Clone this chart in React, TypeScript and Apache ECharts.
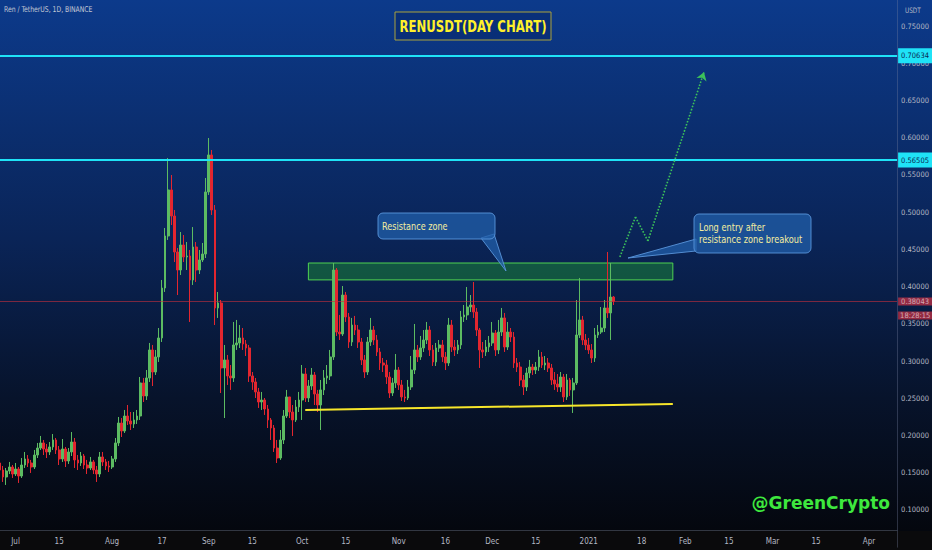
import React, { useEffect, useRef } from "react";
import * as echarts from "echarts";

const NARROW = "'Liberation Sans Narrow', 'Arial Narrow', 'DejaVu Sans Condensed', 'Roboto Condensed', sans-serif";

// ---- data ----
const firstDate = "2020-06-26";
const lastDate = "2021-04-10";
const firstOpen = 0.1631;

const closes = [
  0.1537, 0.1443, 0.1524, 0.1577, 0.1483, 0.1550, 0.1456, 0.1604, 0.1685, 0.1631,
  0.1577, 0.1738, 0.1832, 0.1900, 0.1819, 0.1779, 0.1846, 0.1940, 0.1806, 0.1685,
  0.1819, 0.1658, 0.1779, 0.1913, 0.1672, 0.1631, 0.1725, 0.1604, 0.1564, 0.1645,
  0.1537, 0.1483, 0.1712, 0.1645, 0.1591, 0.1577, 0.1685, 0.1900, 0.2168, 0.2061,
  0.2262, 0.2195, 0.2155, 0.2209, 0.2262, 0.2706, 0.2531, 0.2773, 0.3149, 0.2853,
  0.3055, 0.3310, 0.3981, 0.4680, 0.5298, 0.4948, 0.4465, 0.4223, 0.4559, 0.4398,
  0.4411, 0.4089, 0.4532, 0.4223, 0.4358, 0.4438, 0.5271, 0.5768, 0.5029, 0.3713,
  0.3780, 0.2907, 0.3015, 0.2800, 0.2773, 0.3216, 0.3243, 0.3310, 0.3229, 0.3176,
  0.2800, 0.2719, 0.2585, 0.2450, 0.2477, 0.2356, 0.2209, 0.2101, 0.1832, 0.1698,
  0.1940, 0.2262, 0.2518, 0.2316, 0.2209, 0.2383, 0.2477, 0.2826, 0.2504, 0.2665,
  0.2813, 0.2558, 0.2410, 0.2612, 0.2773, 0.2800, 0.3055, 0.4223, 0.3390, 0.3364,
  0.3887, 0.3592, 0.3256, 0.3484, 0.3417, 0.3256, 0.3015, 0.2853, 0.3256, 0.3417,
  0.3283, 0.3122, 0.2974, 0.2947, 0.2786, 0.2571, 0.2706, 0.2880, 0.2679, 0.2518,
  0.2504, 0.2652, 0.2880, 0.3149, 0.3055, 0.3176, 0.3283, 0.3417, 0.3149, 0.2988,
  0.3176, 0.3216, 0.3055, 0.2974, 0.3484, 0.3189, 0.3149, 0.3216, 0.3592, 0.3619,
  0.3726, 0.3753, 0.3659, 0.3417, 0.3149, 0.3122, 0.3189, 0.3243, 0.3377, 0.3149,
  0.3390, 0.3579, 0.3189, 0.3390, 0.3323, 0.2974, 0.2920, 0.2746, 0.2652, 0.2840,
  0.2920, 0.2880, 0.2920, 0.3055, 0.2947, 0.2974, 0.2907, 0.2746, 0.2692, 0.2652,
  0.2786, 0.2518, 0.2746, 0.2612, 0.2706, 0.3350, 0.3552, 0.3283, 0.3216, 0.3149,
  0.3041, 0.3350, 0.3390, 0.3444, 0.3713, 0.3646, 0.3860, 0.38043,
];

const highs = [
  0.1698, 0.1591, 0.1564, 0.1645, 0.1604, 0.1631, 0.1577, 0.1698, 0.1779, 0.1738,
  0.1672, 0.1806, 0.1900, 0.1994, 0.1940, 0.1886, 0.1913, 0.2020, 0.1967, 0.1859,
  0.1953, 0.1846, 0.1832, 0.2047, 0.1967, 0.1738, 0.1779, 0.1752, 0.1672, 0.1712,
  0.1672, 0.1591, 0.1779, 0.1779, 0.1685, 0.1658, 0.1725, 0.1967, 0.2249, 0.2235,
  0.2343, 0.2410, 0.2316, 0.2316, 0.2343, 0.2786, 0.2773, 0.2880, 0.3243, 0.3216,
  0.3149, 0.3444, 0.4089, 0.4787, 0.5727, 0.5499, 0.5029, 0.4519, 0.4733, 0.4693,
  0.4599, 0.4492, 0.4800, 0.4599, 0.4492, 0.4586, 0.5459, 0.5996, 0.5835, 0.5096,
  0.3928, 0.3820, 0.3216, 0.3082, 0.2947, 0.3525, 0.3552, 0.3484, 0.3444, 0.3283,
  0.3216, 0.2853, 0.2773, 0.2639, 0.2585, 0.2504, 0.2410, 0.2235, 0.2141, 0.1940,
  0.2074, 0.2343, 0.2612, 0.2518, 0.2410, 0.2477, 0.2585, 0.2947, 0.2907, 0.2746,
  0.2907, 0.2853, 0.2612, 0.2746, 0.2880, 0.2947, 0.3149, 0.4317, 0.4250, 0.3619,
  0.4008, 0.3928, 0.3646, 0.3579, 0.3606, 0.3484, 0.3310, 0.3082, 0.3323, 0.3579,
  0.3471, 0.3350, 0.3176, 0.3041, 0.3015, 0.2853, 0.2773, 0.3095, 0.2920, 0.2746,
  0.2612, 0.2746, 0.3068, 0.3498, 0.3216, 0.3337, 0.3417, 0.3525, 0.3471, 0.3216,
  0.3243, 0.3283, 0.3283, 0.3122, 0.3579, 0.3552, 0.3283, 0.3283, 0.3673, 0.3753,
  0.3995, 0.3887, 0.4062, 0.3713, 0.3444, 0.3256, 0.3283, 0.3337, 0.3525, 0.3417,
  0.3552, 0.3713, 0.3646, 0.3525, 0.3444, 0.3390, 0.3041, 0.2987, 0.2813, 0.2907,
  0.3015, 0.2961, 0.2987, 0.3149, 0.3122, 0.3068, 0.3041, 0.2961, 0.2853, 0.2826,
  0.2853, 0.2826, 0.2826, 0.2773, 0.2773, 0.3820, 0.4116, 0.3606, 0.3364, 0.3310,
  0.3229, 0.3444, 0.3484, 0.3726, 0.3820, 0.4465, 0.4317, 0.3874,
];

const lows = [
  0.1470, 0.1376, 0.1336, 0.1483, 0.1430, 0.1456, 0.1363, 0.1430, 0.1564, 0.1577,
  0.1497, 0.1550, 0.1698, 0.1806, 0.1738, 0.1698, 0.1738, 0.1806, 0.1752, 0.1604,
  0.1645, 0.1577, 0.1618, 0.1725, 0.1564, 0.1537, 0.1591, 0.1550, 0.1483, 0.1537,
  0.1483, 0.1376, 0.1443, 0.1591, 0.1537, 0.1510, 0.1550, 0.1645, 0.1859, 0.1980,
  0.2034, 0.2141, 0.2074, 0.2101, 0.2155, 0.2209, 0.2450, 0.2477, 0.2719, 0.2665,
  0.2813, 0.2988, 0.3256, 0.3928, 0.4626, 0.4827, 0.4330, 0.3887, 0.4156, 0.4330,
  0.4223, 0.3525, 0.4022, 0.4062, 0.4169, 0.4330, 0.4384, 0.5231, 0.4962, 0.3484,
  0.3579, 0.2571, 0.2235, 0.2679, 0.2612, 0.2719, 0.3149, 0.3176, 0.3149, 0.3068,
  0.2719, 0.2612, 0.2504, 0.2370, 0.2343, 0.2276, 0.2101, 0.1940, 0.1779, 0.1631,
  0.1672, 0.1886, 0.2235, 0.2235, 0.1994, 0.2182, 0.2316, 0.2209, 0.2450, 0.2450,
  0.2612, 0.2410, 0.2316, 0.2074, 0.2544, 0.2692, 0.2746, 0.3015, 0.3337, 0.3283,
  0.3337, 0.3525, 0.3176, 0.3203, 0.3350, 0.3176, 0.2947, 0.2773, 0.2813, 0.3203,
  0.3216, 0.3068, 0.2880, 0.2853, 0.2692, 0.2504, 0.2531, 0.2639, 0.2612, 0.2464,
  0.2450, 0.2477, 0.2612, 0.2826, 0.2988, 0.3015, 0.3122, 0.3229, 0.3068, 0.2934,
  0.2934, 0.3122, 0.2988, 0.2880, 0.2934, 0.3122, 0.3068, 0.3095, 0.3162, 0.3525,
  0.3552, 0.3659, 0.3579, 0.3337, 0.2907, 0.3041, 0.3068, 0.3122, 0.3203, 0.3068,
  0.3095, 0.3337, 0.3122, 0.3149, 0.3256, 0.2907, 0.2853, 0.2665, 0.2544, 0.2598,
  0.2773, 0.2813, 0.2826, 0.2867, 0.2907, 0.2880, 0.2853, 0.2679, 0.2612, 0.2585,
  0.2585, 0.2450, 0.2477, 0.2531, 0.2303, 0.2679, 0.3310, 0.3216, 0.3149, 0.3095,
  0.2974, 0.2988, 0.3310, 0.3364, 0.3390, 0.3579, 0.3283, 0.3753,
];

const xTickDates = [
  "2020-07-01", "2020-07-15", "2020-08-01", "2020-08-17", "2020-09-01", "2020-09-15",
  "2020-10-01", "2020-10-15", "2020-11-01", "2020-11-16", "2020-12-01", "2020-12-15",
  "2021-01-01", "2021-01-18", "2021-02-01", "2021-02-15", "2021-03-01", "2021-03-15",
  "2021-04-01",
];
const xTickLabels = [
  "Jul", "15", "Aug", "17", "Sep", "15", "Oct", "15", "Nov", "16", "Dec", "15",
  "2021", "18", "Feb", "15", "Mar", "15", "Apr",
];

const yMin = 0.05;
const yMax = 0.78493;
const yStep = 0.05;

const levelPrices = [0.70634, 0.56505];
const lastPrice = 0.38043;
const countdown = "18:28:15";
const zoneDates = ["2020-10-03", "2021-01-28"];
const zonePrices = [0.4317, 0.409];
const supportDates = ["2020-10-02", "2021-01-28"];
const supportPrices = [0.2343, 0.2424];
const pathDates = ["2021-01-11", "2021-01-16", "2021-01-20", "2021-02-07"];
const pathPrices = [0.4398, 0.4935, 0.4613, 0.688];

function buildDays(from: string, to: string): string[] {
  const out: string[] = [];
  const d = new Date(from + "T00:00:00Z");
  const end = new Date(to + "T00:00:00Z");
  while (d.getTime() <= end.getTime()) {
    out.push(d.toISOString().slice(0, 10));
    d.setUTCDate(d.getUTCDate() + 1);
  }
  return out;
}

export default function App() {
  const ref = useRef<HTMLDivElement>(null);

  useEffect(() => {
    if (!ref.current) return;
    const chart = echarts.init(ref.current, null, { renderer: "svg" });

    const days = buildDays(firstDate, lastDate);
    const candles = closes.map((c, i) => [i === 0 ? firstOpen : closes[i - 1], c, lows[i], highs[i]]);
    const tickMap: Record<string, string> = {};
    xTickDates.forEach((d, i) => (tickMap[d] = xTickLabels[i]));

    const UP = "#5cbb62";
    const DOWN = "#e3262f";
    const CYAN = "#1fe3f7";
    const LABEL = "#b4b8c4";
    const BOX_FILL = "rgba(33,95,170,0.75)";
    const BOX_STROKE = "rgba(90,150,220,0.9)";

    const pathSegments = pathDates.slice(1).map((d, k) => [
      { coord: [pathDates[k], pathPrices[k]], symbol: "none" },
      {
        coord: [d, pathPrices[k + 1]],
        symbol: k === pathDates.length - 2 ? "arrow" : "none",
        symbolSize: 8,
      },
    ]);

    const option: any = {
      animation: false,
      backgroundColor: "transparent",
      grid: { left: 0, right: 33.4, top: 0, bottom: 2.8 },
      xAxis: {
        type: "category",
        data: days,
        boundaryGap: false,
        offset: -17,
        axisLine: { show: true, lineStyle: { color: "rgba(90,95,110,0.55)" } },
        axisTick: { show: false },
        splitLine: { show: false },
        axisLabel: {
          interval: (_idx: number, value: string) => tickMap[value] !== undefined,
          formatter: (value: string) => tickMap[value] || "",
          color: LABEL,
          fontSize: 8,
          fontFamily: NARROW,
          margin: 7,
        },
      },
      yAxis: {
        type: "value",
        position: "right",
        min: yMin,
        max: yMax,
        interval: yStep,
        scale: false,
        axisLine: { show: true, lineStyle: { color: "rgba(120,130,160,0.35)" } },
        axisTick: { show: false },
        splitLine: { show: false },
        axisLabel: {
          formatter: (v: number) => (v < 0.07 || v > 0.76 ? "" : v.toFixed(5)),
          color: LABEL,
          fontSize: 7.5,
          fontFamily: NARROW,
          margin: 4,
        },
      },
      series: [
        {
          type: "candlestick",
          name: "RENUSDT",
          data: candles,
          barWidth: "72%",
          itemStyle: { color: UP, color0: DOWN, borderColor: UP, borderColor0: DOWN, borderWidth: 1 },
          markArea: {
            silent: true,
            itemStyle: { color: "rgba(30,160,50,0.42)", borderColor: "#4fd152", borderWidth: 1 },
            data: [[{ coord: [zoneDates[0], zonePrices[0]] }, { coord: [zoneDates[1], zonePrices[1]] }]],
          },
          markLine: {
            silent: true,
            symbol: ["none", "none"],
            data: [
              ...levelPrices.map((p) => ({
                yAxis: p,
                lineStyle: { color: CYAN, width: 2, type: "solid" },
                label: {
                  show: true,
                  position: "end",
                  distance: 1,
                  formatter: p.toFixed(5),
                  backgroundColor: CYAN,
                  color: "#0a2a55",
                  fontSize: 7.5,
                  fontFamily: NARROW,
                  padding: [4, 3, 3, 3],
                },
              })),
              {
                yAxis: lastPrice,
                lineStyle: { color: "#c8303c", width: 1, type: "solid", opacity: 0.6 },
                label: {
                  show: true,
                  position: "end",
                  distance: 1,
                  formatter: `{a|${lastPrice.toFixed(5)}}\n{b|${countdown}}`,
                  padding: [14, 0, 0, 0],
                  rich: {
                    a: { backgroundColor: "#f23645", color: "#ffffff", fontSize: 7.5, fontFamily: NARROW, lineHeight: 14, padding: [0, 3, 0, 3] },
                    b: { backgroundColor: "#f23645", color: "#ffffff", fontSize: 7.5, fontFamily: NARROW, lineHeight: 14, padding: [0, 2, 0, 2] },
                  },
                },
              },
            ],
          },
        },
        {
          type: "line",
          name: "support",
          data: [],
          markLine: {
            silent: true,
            symbol: ["none", "none"],
            lineStyle: { color: "#f7e62a", width: 2, type: "solid" },
            label: { show: false },
            data: [[{ coord: [supportDates[0], supportPrices[0]] }, { coord: [supportDates[1], supportPrices[1]] }]],
          },
        },
        {
          type: "line",
          name: "projection",
          data: [],
          markLine: {
            silent: true,
            symbol: ["none", "none"],
            lineStyle: { color: "#3cc25a", width: 1.6, type: "dotted" },
            label: { show: false },
            data: pathSegments,
          },
        },
      ],
      graphic: [
        {
          type: "rect",
          z: -100,
          silent: true,
          shape: { x: 0, y: 0, width: 932, height: 531 },
          style: {
            fill: new echarts.graphic.LinearGradient(0, 0, 0, 1, [
              { offset: 0, color: "#0c3a8b" },
              { offset: 0.45, color: "#0a2457" },
              { offset: 0.75, color: "#07132b" },
              { offset: 1, color: "#04070e" },
            ]),
          },
        },
        {
          type: "rect",
          z: -99,
          silent: true,
          shape: { x: 0, y: 531, width: 932, height: 19 },
          style: { fill: "#0a0a0c" },
        },
        {
          type: "text",
          z: 100,
          x: 4,
          y: 9,
          scaleX: 0.85,
          style: { text: "Ren / TetherUS, 1D, BINANCE", fill: "#c3c8d4", fontSize: 8, fontFamily: NARROW, verticalAlign: "middle" },
        },
        {
          type: "text",
          z: 100,
          x: 905,
          y: 11,
          scaleX: 0.85,
          style: { text: "USDT", fill: LABEL, fontSize: 7.5, fontFamily: NARROW, verticalAlign: "middle" },
        },
        {
          type: "rect",
          z: 100,
          shape: { x: 395, y: 12, width: 156, height: 28 },
          style: { fill: "rgba(8,40,110,0.55)", stroke: "#aaa23c", lineWidth: 1 },
        },
        {
          type: "text",
          z: 101,
          x: 473,
          y: 26.5,
          scaleX: 0.84,
          style: {
            text: "RENUSDT(DAY CHART)",
            fill: "#fff02a",
            fontSize: 15.5,
            fontWeight: "bold",
            fontFamily: NARROW,
            align: "center",
            verticalAlign: "middle",
          },
        },
        {
          type: "polygon",
          z: 100,
          shape: { points: [[481, 238], [494, 234], [506, 271]] },
          style: { fill: BOX_FILL, stroke: BOX_STROKE, lineWidth: 1 },
        },
        {
          type: "rect",
          z: 101,
          shape: { x: 378, y: 213, width: 117, height: 26, r: 5 },
          style: { fill: BOX_FILL, stroke: BOX_STROKE, lineWidth: 1 },
        },
        {
          type: "text",
          z: 102,
          x: 382,
          y: 226,
          scaleX: 0.82,
          style: { text: "Resistance zone", fill: "#f3eda0", fontSize: 11, fontFamily: NARROW, verticalAlign: "middle" },
        },
        {
          type: "polygon",
          z: 100,
          shape: { points: [[696, 239], [696, 251], [628, 258]] },
          style: { fill: BOX_FILL, stroke: BOX_STROKE, lineWidth: 1 },
        },
        {
          type: "rect",
          z: 101,
          shape: { x: 694, y: 214, width: 117, height: 39, r: 5 },
          style: { fill: BOX_FILL, stroke: BOX_STROKE, lineWidth: 1 },
        },
        {
          type: "text",
          z: 102,
          x: 699,
          y: 233,
          scaleX: 0.83,
          style: {
            text: "Long entry after\nresistance zone breakout",
            fill: "#f3eda0",
            fontSize: 11,
            lineHeight: 12.5,
            fontFamily: NARROW,
            verticalAlign: "middle",
          },
        },
        {
          type: "text",
          z: 100,
          x: 890,
          y: 503,
          style: {
            text: "@GreenCrypto",
            fill: "#3ee83e",
            fontSize: 17,
            fontWeight: "bold",
            fontFamily: "'DejaVu Sans', sans-serif",
            align: "right",
            verticalAlign: "middle",
          },
        },
      ],
    };

    chart.setOption(option);
    return () => chart.dispose();
  }, []);

  return (
    <div
      ref={ref}
      style={{ position: "fixed", left: 0, top: 0, width: 932, height: 550, background: "#000" }}
    />
  );
}
